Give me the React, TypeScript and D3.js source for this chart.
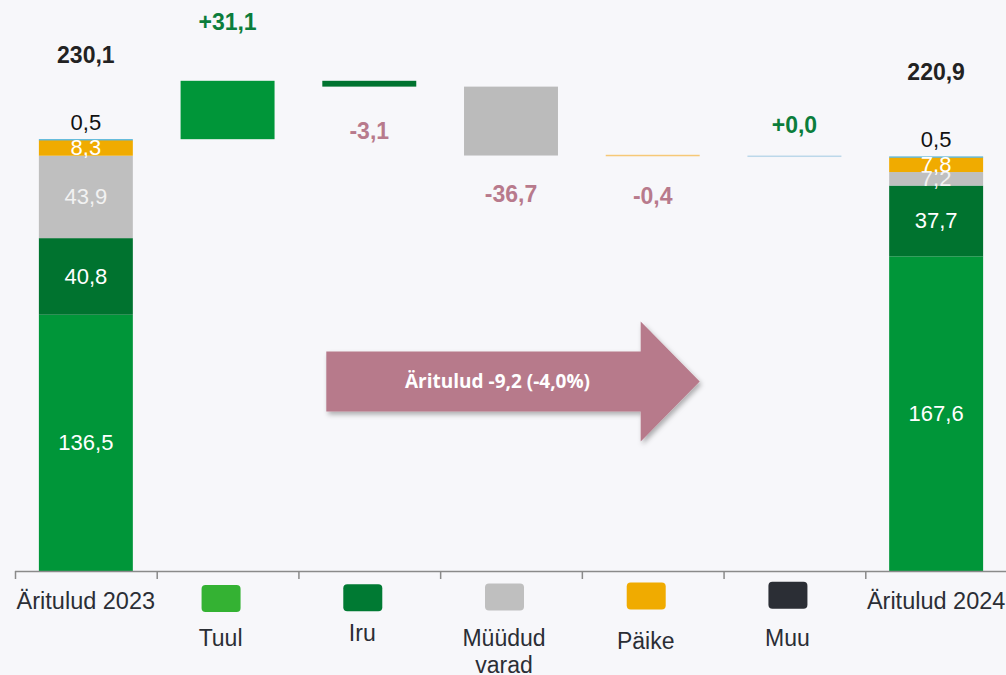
import * as d3 from 'd3'

const W = 1006
const H = 675

// categories along the x axis
const categories = ['Äritulud 2023', 'Tuul', 'Iru', 'Müüdud varad', 'Päike', 'Muu', 'Äritulud 2024']
const segments = ['Tuul', 'Iru', 'Müüdud varad', 'Päike', 'Muu']

// stacked totals (same order as segments)
const values2023 = [136.5, 40.8, 43.9, 8.3, 0.5]
const values2024 = [167.6, 37.7, 7.2, 7.8, 0.5]
const totalLabels = ['230,1', '220,9']

// waterfall steps
const deltas = [31.1, -3.1, -36.7, -0.4, 0.0]
const deltaLabels = ['+31,1', '-3,1', '-36,7', '-0,4', '+0,0']

const arrowText = 'Äritulud -9,2 (-4,0%)'

const stackColors = ['#009639', '#00732f', '#bfbfbf', '#f0ab00', '#45aed6']
const stepColors = ['#009639', '#00732f', '#bbbbbb', '#f6c877', '#bcd8ea']
const legendColors = ['#34b233', '#007a33', '#bfbfbf', '#f0ab00', '#2b2e35']
const segLabelColors = ['#ffffff', '#ffffff', '#f2f2f2', '#ffffff', '#111111']
// distance of each step label from its bar (px)
const labelGap = [59, 44, 38, 40, 31]

const fmt = (v: number) => v.toFixed(1).replace('.', ',')

export default function App() {
  const x = d3.scaleBand<string>().domain(categories).range([15, 1007])
  const step = x.step()
  const barW = step * 0.663
  const barX = (c: string) => (x(c) ?? 0) + (step - barW) / 2
  const y = d3.scaleLinear().domain([0, 230.1]).range([571, 139])
  const baseY = y(0)

  const stackRows = (vals: number[]) => {
    let acc = 0
    return vals.map((v, i) => {
      const y0 = acc
      acc += v
      return { seg: segments[i], v, y0, y1: acc, i }
    })
  }

  const start = stackRows(values2023)
  const end = stackRows(values2024)
  const startTotal = d3.sum(values2023)
  const endTotal = d3.sum(values2024)

  let running = startTotal
  const steps = deltas.map((d, i) => {
    const from = running
    running += d
    return { cat: segments[i], d, from, to: running, i }
  })

  const font = '"Liberation Sans", Arial, sans-serif'

  const renderStack = (rows: ReturnType<typeof stackRows>, cat: string, total: number, label: string) => {
    const bx = barX(cat)
    const cx = bx + barW / 2
    return (
      <g>
        {rows.map((r) => (
          <rect
            key={r.seg}
            x={bx}
            y={y(r.y1)}
            width={barW}
            height={Math.max(1.2, y(r.y0) - y(r.y1))}
            fill={stackColors[r.i]}
          />
        ))}
        {rows.map((r) => {
          const last = r.i === rows.length - 1
          const ty = last ? y(r.y1) - 17 : (y(r.y0) + y(r.y1)) / 2
          return (
            <text
              key={'l' + r.seg}
              x={cx}
              y={ty}
              textAnchor="middle"
              dominantBaseline="central"
              fontSize={22}
              fontFamily={font}
              fill={segLabelColors[r.i]}
            >
              {fmt(r.v)}
            </text>
          )
        })}
        <text
          x={cx}
          y={y(total) - 76}
          textAnchor="middle"
          fontSize={23}
          fontWeight="bold"
          fontFamily={font}
          fill="#222"
        >
          {label}
        </text>
      </g>
    )
  }

  // arrow annotation spanning from Iru to Päike bands
  const ax0 = barX('Iru') + 4
  const ax1 = barX('Päike') + barW
  const ayc = y(101)
  const headX = ax1 - 59
  const arrowPath = [
    [ax0, ayc - 30],
    [headX, ayc - 30],
    [headX, ayc - 60],
    [ax1, ayc],
    [headX, ayc + 60],
    [headX, ayc + 30],
    [ax0, ayc + 30],
  ]

  return (
    <svg
      width={W}
      height={H}
      style={{ position: 'absolute', left: 0, top: 0, display: 'block', background: '#f7f7fa' }}
    >
      <defs>
        <filter id="shadow" x="-10%" y="-20%" width="130%" height="150%">
          <feDropShadow dx="2" dy="3" stdDeviation="2.5" floodColor="#000" floodOpacity="0.3" />
        </filter>
      </defs>
      <rect width={W} height={H} fill="#f7f7fa" />

      {renderStack(start, categories[0], startTotal, totalLabels[0])}
      {renderStack(end, categories[6], endTotal, totalLabels[1])}

      {steps.map((s) => {
        const bx = barX(s.cat)
        const top = y(Math.max(s.from, s.to))
        const bot = y(Math.min(s.from, s.to))
        const h = bot - top
        const thin = h < 3
        const pos = s.d >= 0
        const gap = labelGap[s.i]
        const ly = pos ? top - gap : bot + gap
        return (
          <g key={s.cat}>
            <rect
              x={bx}
              y={thin ? top - 0.75 : top}
              width={barW}
              height={thin ? 1.5 : h}
              fill={stepColors[s.i]}
            />
            <text
              x={bx + barW / 2}
              y={ly}
              textAnchor="middle"
              dominantBaseline="central"
              fontSize={23}
              fontWeight="bold"
              fontFamily={font}
              fill={pos ? '#0b7d3c' : '#b87a8c'}
            >
              {deltaLabels[s.i]}
            </text>
          </g>
        )
      })}

      {/* axis */}
      <line x1={15} x2={W} y1={baseY + 0.5} y2={baseY + 0.5} stroke="#8a8a8a" strokeWidth={1.5} />
      {categories.map((c) => (
        <line
          key={'t' + c}
          x1={(x(c) ?? 0) + 0.5}
          x2={(x(c) ?? 0) + 0.5}
          y1={baseY}
          y2={baseY + 8}
          stroke="#8a8a8a"
          strokeWidth={1.5}
        />
      ))}
      {[categories[0], categories[6]].map((c) => (
        <text
          key={'c' + c}
          x={(x(c) ?? 0) + step / 2}
          y={601}
          textAnchor="middle"
          dominantBaseline="central"
          fontSize={23.5}
          fontFamily={font}
          fill="#2b2e35"
        >
          {c}
        </text>
      ))}

      {/* legend inside the step bands */}
      {segments.map((s, i) => {
        const cx = (x(s) ?? 0) + step / 2 - 7
        const lines = s.split(' ')
        const ly = i === 1 ? 633 : i === 3 ? 641 : 638
        return (
          <g key={'lg' + s}>
            <rect x={cx - 19} y={585 - i * 0.8} width={39} height={27} rx={4} fill={legendColors[i]} />
            <text
              x={cx}
              y={ly}
              textAnchor="middle"
              fontSize={23}
              fontFamily={font}
              fill="#2b2e35"
              dominantBaseline="central"
            >
              {lines.map((ln, k) => (
                <tspan key={ln} x={cx} dy={k === 0 ? 0 : 27}>
                  {ln}
                </tspan>
              ))}
            </text>
          </g>
        )
      })}

      {/* change arrow */}
      <path
        d={d3.line()(arrowPath as [number, number][]) + 'Z'}
        fill="#b77a8b"
        filter="url(#shadow)"
      />
      <text
        x={(ax0 + headX) / 2 + 14}
        y={ayc}
        textAnchor="middle"
        dominantBaseline="central"
        fontSize={19}
        fontWeight="bold"
        fontFamily='"Open Sans", sans-serif'
        fill="#ffffff"
      >
        {arrowText}
      </text>
    </svg>
  )
}
